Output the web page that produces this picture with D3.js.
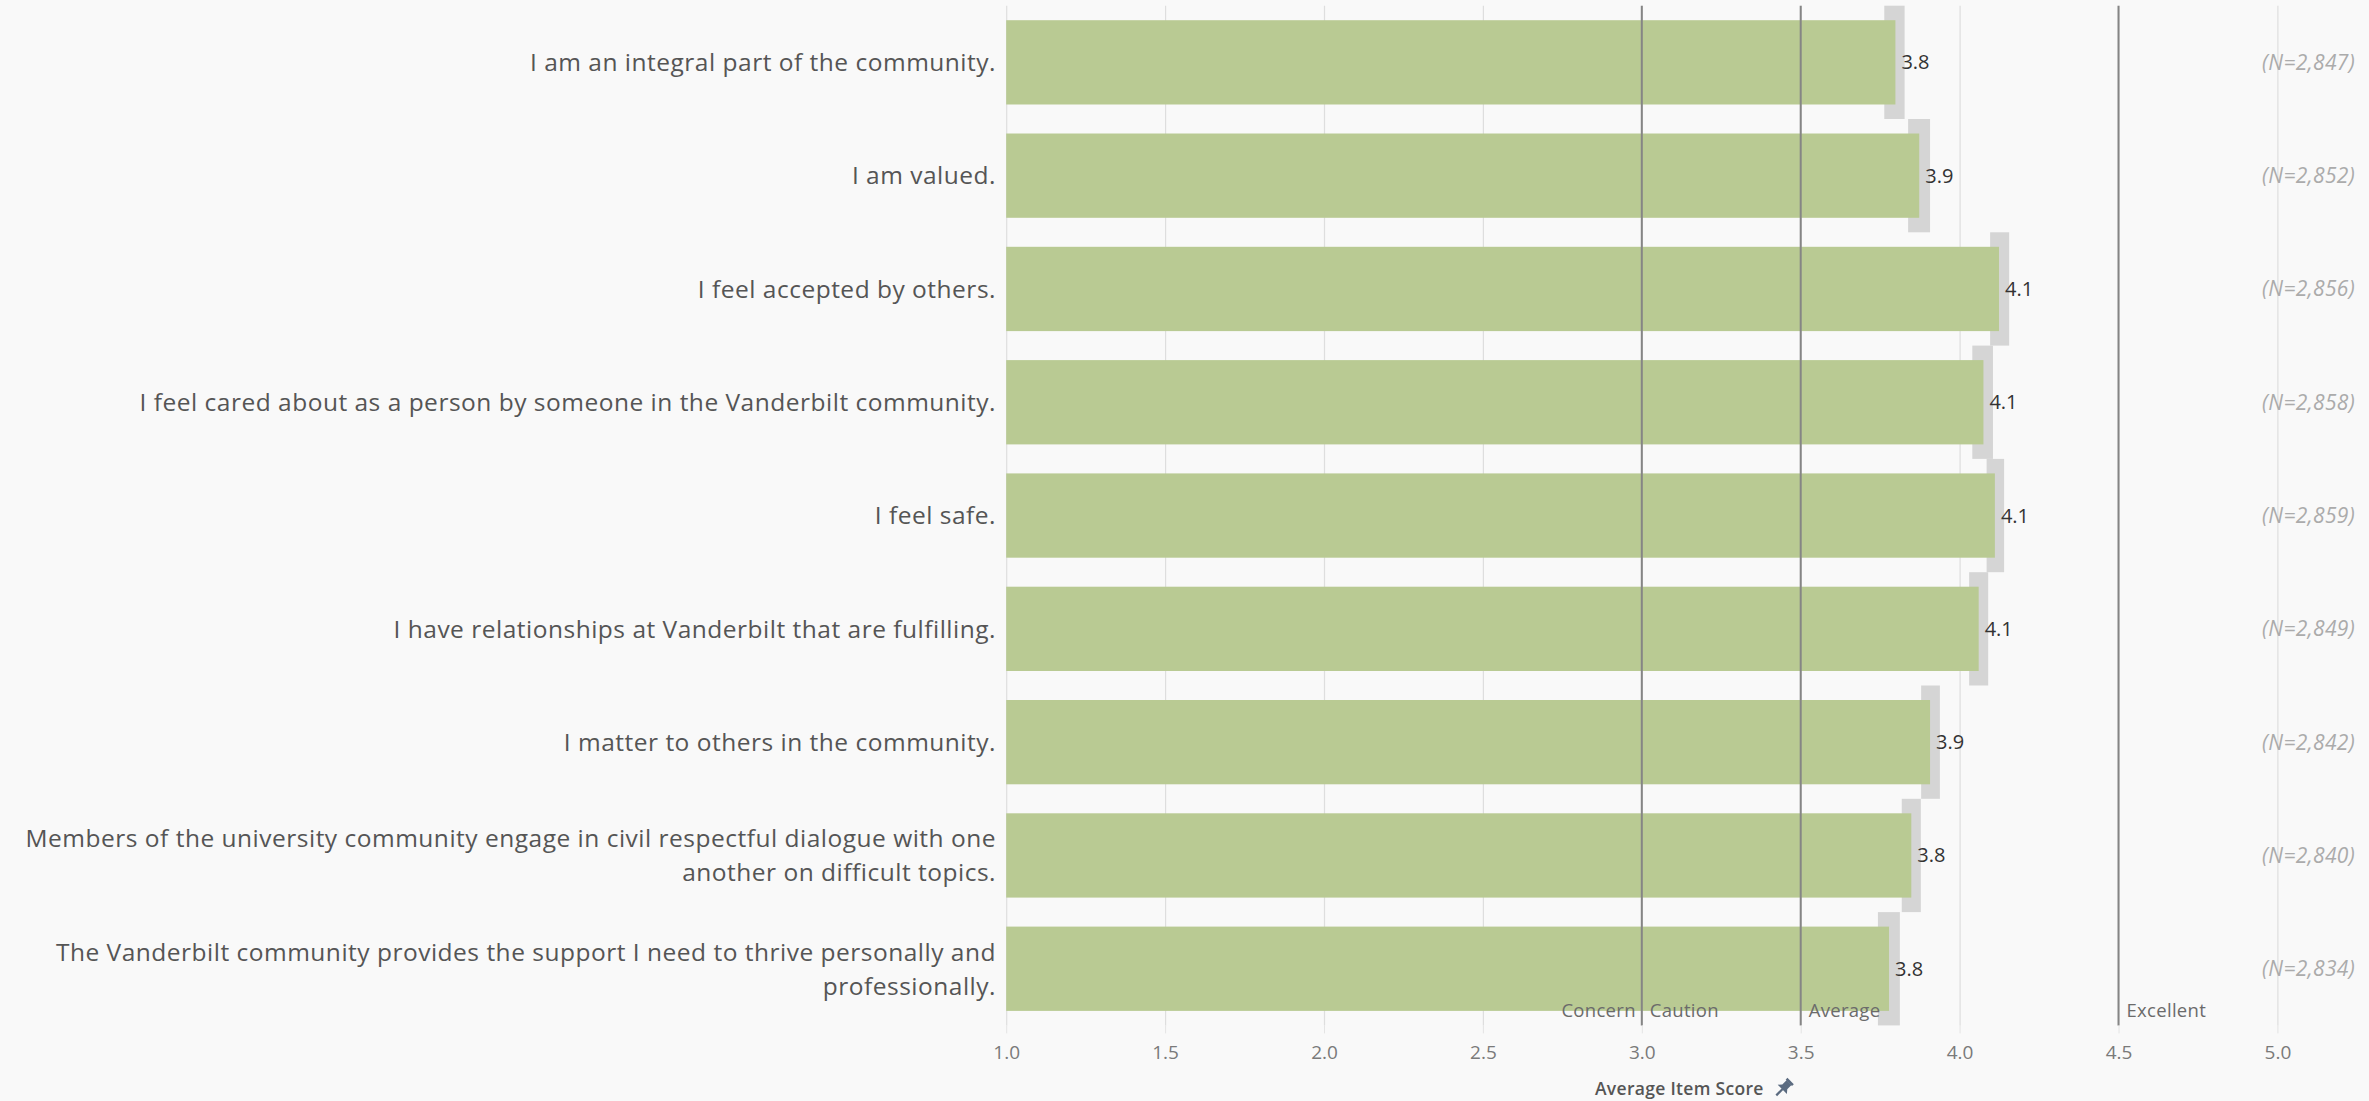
<!DOCTYPE html>
<html>
<head>
<meta charset="utf-8">
<script src="https://cdn.jsdelivr.net/npm/d3@7"></script>
<style>
  html, body { margin: 0; padding: 0; background: #f9f9f9; }
  svg { display: block; font-family: "Open Sans", "Noto Sans", sans-serif; }
</style>
</head>
<body>
<svg id="chart" width="2369" height="1101"></svg>
<script>
// Survey items, in display order
const items = [
  "I am an integral part of the community.",
  "I am valued.",
  "I feel accepted by others.",
  "I feel cared about as a person by someone in the Vanderbilt community.",
  "I feel safe.",
  "I have relationships at Vanderbilt that are fulfilling.",
  "I matter to others in the community.",
  "Members of the university community engage in civil respectful dialogue with one another on difficult topics.",
  "The Vanderbilt community provides the support I need to thrive personally and professionally."
];
// Average item score and its confidence band
const means = [3.798, 3.873, 4.124, 4.075, 4.111, 4.060, 3.907, 3.848, 3.778];
const lower = [3.763, 3.838, 4.096, 4.040, 4.085, 4.030, 3.879, 3.818, 3.743];
const upper = [3.827, 3.907, 4.156, 4.105, 4.140, 4.090, 3.938, 3.878, 3.812];
// Respondents per item
const counts = [2847, 2852, 2856, 2858, 2859, 2849, 2842, 2840, 2834];
// Axis ticks
const ticks = [1.0, 1.5, 2.0, 2.5, 3.0, 3.5, 4.0, 4.5, 5.0];
// Benchmark lines and the zone names written beside them
const refValues = [3.0, 3.5, 4.5];
const zoneNames = ["Concern", "Caution", "Average", "Excellent"];
const zoneAt    = [3.0, 3.0, 3.5, 4.5];
const zoneSide  = ["left", "right", "right", "right"];
const axisTitle = "Average Item Score";

const svg = d3.select("#chart");
const plot = { left: 1006.2, right: 2277.4, top: 5.7, bottom: 1025.4 };

const x = d3.scaleLinear().domain([1, 5]).range([plot.left, plot.right]);
const y = d3.scaleBand().domain(d3.range(items.length)).range([plot.top, plot.bottom]).padding(0);
const barFrac = 0.744;
const barH = y.bandwidth() * barFrac;
const barOff = (y.bandwidth() - barH) / 2;

// vertical gridlines
svg.append("g")
  .attr("transform", `translate(0,${plot.bottom})`)
  .call(d3.axisBottom(x).tickValues(ticks).tickSize(-(plot.bottom - plot.top)).tickFormat(""))
  .call(g => g.select(".domain").remove())
  .call(g => g.selectAll(".tick line").attr("stroke", "#dedede").attr("stroke-width", 1.2));

// confidence bands (full row height)
svg.append("g").selectAll("rect").data(items).join("rect")
  .attr("x", (d, i) => x(lower[i]))
  .attr("width", (d, i) => x(upper[i]) - x(lower[i]))
  .attr("y", (d, i) => y(i))
  .attr("height", y.bandwidth())
  .attr("fill", "#d5d5d5");

// bars
svg.append("g").selectAll("rect").data(items).join("rect")
  .attr("x", x(1))
  .attr("width", (d, i) => x(means[i]) - x(1))
  .attr("y", (d, i) => y(i) + barOff)
  .attr("height", barH)
  .attr("fill", "#b9ca93");

// benchmark lines
svg.append("g").selectAll("line").data(refValues).join("line")
  .attr("x1", d => x(d)).attr("x2", d => x(d))
  .attr("y1", plot.top).attr("y2", plot.bottom)
  .attr("stroke", "#858585").attr("stroke-width", 2);

// zone names
svg.append("g").selectAll("text").data(zoneNames).join("text")
  .attr("x", (d, i) => zoneSide[i] === "left" ? x(zoneAt[i]) - 6 : x(zoneAt[i]) + 8)
  .attr("y", 1017)
  .attr("text-anchor", (d, i) => zoneSide[i] === "left" ? "end" : "start")
  .attr("font-size", 18.5)
  .attr("letter-spacing", 0.3)
  .attr("fill", "#6b6b6b")
  .text(d => d);

// value labels
const fmt = d3.format(".1f");
svg.append("g").selectAll("text").data(items).join("text")
  .attr("x", (d, i) => x(means[i]) + 6)
  .attr("y", (d, i) => y(i) + y.bandwidth() / 2)
  .attr("dy", "0.35em")
  .attr("font-size", 20)
  .attr("fill", "#333")
  .text((d, i) => fmt(means[i]));

// respondent counts
const nfmt = d3.format(",");
svg.append("g").selectAll("text").data(counts).join("text")
  .attr("x", 2355)
  .attr("y", (d, i) => y(i) + y.bandwidth() / 2)
  .attr("dy", "0.35em")
  .attr("text-anchor", "end")
  .attr("font-size", 21)
  .attr("letter-spacing", 0.3)
  .attr("font-style", "italic")
  .attr("fill", "#ababab")
  .text(d => `(N=${nfmt(d)})`);

// item labels, wrapped to the space left of the plot
const labelRight = 996, labelMax = 990, lineH = 34, labelSize = 24.5;
const labels = svg.append("g").attr("font-size", labelSize).attr("letter-spacing", 0.5).attr("fill", "#555");
items.forEach((txt, i) => {
  const t = labels.append("text").attr("text-anchor", "end").attr("x", labelRight);
  const words = txt.split(" ");
  const lines = [];
  let cur = [];
  const probe = labels.append("text").attr("visibility", "hidden");
  words.forEach(w => {
    const trial = cur.concat(w).join(" ");
    probe.text(trial);
    if (probe.node().getComputedTextLength() > labelMax && cur.length) {
      lines.push(cur.join(" "));
      cur = [w];
    } else cur.push(w);
  });
  lines.push(cur.join(" "));
  probe.remove();
  const cy = y(i) + y.bandwidth() / 2;
  const first = cy - (lines.length - 1) * lineH / 2;
  lines.forEach((ln, k) => {
    t.append("tspan").attr("x", labelRight).attr("y", first + k * lineH).attr("dy", "0.36em").text(ln);
  });
});

// bottom axis
svg.append("g")
  .attr("transform", `translate(0,${plot.bottom})`)
  .call(d3.axisBottom(x).tickValues(ticks).tickSize(8).tickPadding(12).tickFormat(fmt))
  .call(g => g.select(".domain").remove())
  .call(g => g.selectAll(".tick line").attr("stroke", "#e4e4e4"))
  .call(g => g.selectAll(".tick text").attr("font-size", 19).attr("fill", "#7a7a7a")
    .attr("font-family", "'Open Sans', sans-serif"));

// axis title with pin marker
const title = svg.append("text")
  .attr("x", 1595).attr("y", 1089).attr("dy", "0.35em")
  .attr("font-size", 17.5).attr("letter-spacing", 0.3).attr("font-weight", 600).attr("fill", "#555")
  .text(axisTitle);
const tw = title.node().getComputedTextLength();
svg.append("g")
  .attr("transform", `translate(${1595 + tw + 19},${1089}) rotate(45)`)
  .call(g => {
    g.append("path").attr("d", "M-3.5,-9 L3.5,-9 L3.5,-3 L6.5,0.5 L-6.5,0.5 L-3.5,-3 Z").attr("fill", "#5b6b80");
    g.append("path").attr("d", "M-4.5,-10 L4.5,-10").attr("stroke", "#5b6b80").attr("stroke-width", 2.5);
    g.append("line").attr("x1", 0).attr("y1", 0).attr("x2", 0).attr("y2", 9)
      .attr("stroke", "#5b6b80").attr("stroke-width", 2.2);
  });
</script>
</body>
</html>
